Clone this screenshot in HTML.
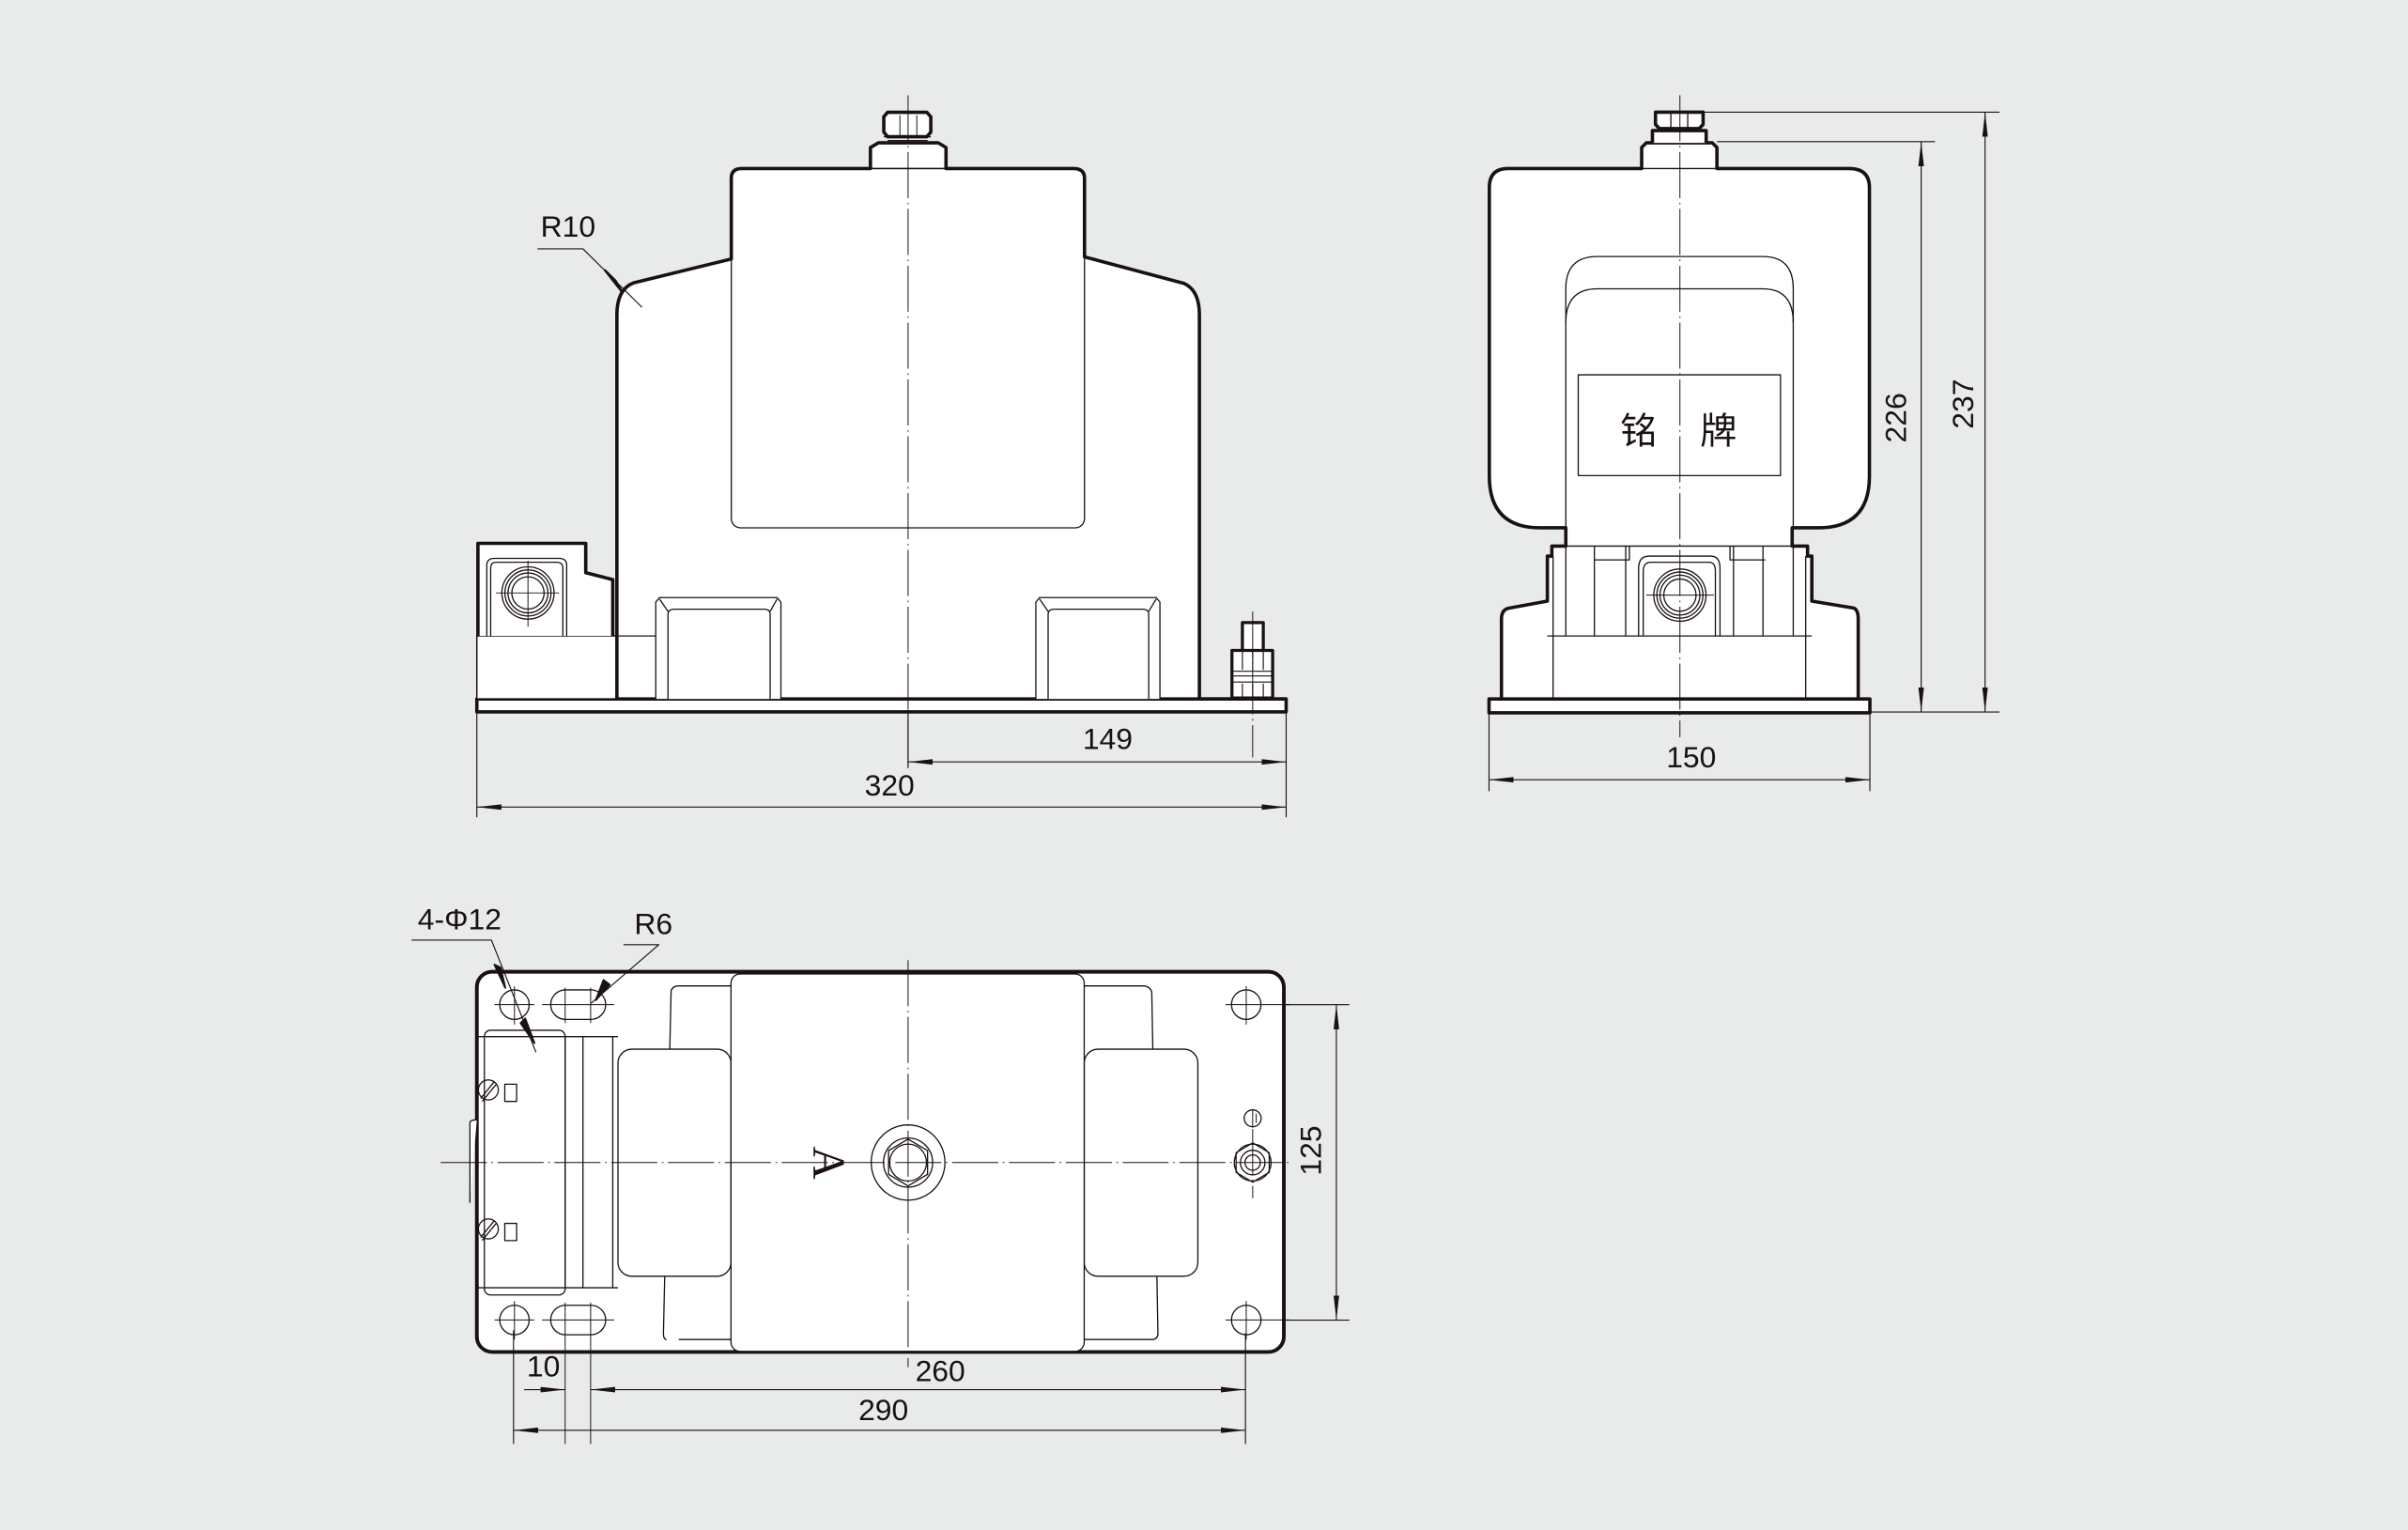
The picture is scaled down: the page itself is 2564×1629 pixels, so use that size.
<!DOCTYPE html>
<html><head><meta charset="utf-8"><style>
html,body{margin:0;padding:0;background:#e9ebea;}
svg{display:block;}
text{font-family:"Liberation Sans","Noto Sans CJK SC",sans-serif;fill:#1a1111;}
</style></head><body>
<svg width="2564" height="1629" viewBox="0 0 1568 996" preserveAspectRatio="none" xmlns="http://www.w3.org/2000/svg">
<defs>
<marker id="ar" markerWidth="16" markerHeight="6" refX="16" refY="3" orient="auto" markerUnits="userSpaceOnUse">
<path d="M0,1.2 L16,3 L0,4.8 Z" fill="#1a1111"/></marker>
<marker id="al" markerWidth="16" markerHeight="6" refX="0" refY="3" orient="auto" markerUnits="userSpaceOnUse">
<path d="M16,1.2 L0,3 L16,4.8 Z" fill="#1a1111"/></marker>
</defs>
<rect width="1568" height="996" fill="#e9ebea"/>
<g stroke="#1a1111" fill="none" stroke-linejoin="round">

<!-- ============ FRONT VIEW ============ -->
<g fill="#fff" stroke-width="2.2">
<!-- base plate -->
<rect x="310.5" y="455" width="527" height="8.4"/>
<!-- lower block -->
<rect x="310.5" y="414" width="116.5" height="41" stroke-width="0.9"/>
<!-- terminal box -->
<path d="M311.2,414 V353.7 H381.4 V372.8 L399,377.3 V414"/>
<!-- main body -->
<path d="M401.7,455 V205 Q401.7,188 413,184 L476.2,168.6 V116 Q476.2,109.7 483,109.7 H566.8 V96 L572,93 H611 L616,96 V109.7 H699 Q706.2,109.7 706.2,116 V167.2 L771,184.5 Q781,189 781,205 V455 Z"/>
</g>
<g stroke-width="0.8">
<rect x="476.2" y="109.7" width="230" height="233.9" rx="6"/>
<line x1="566.8" y1="109.7" x2="616" y2="109.7"/>
<line x1="401.7" y1="414" x2="427" y2="414"/>
</g>
<!-- bolt head -->
<path d="M578,89 L575.5,86 V76 L578,73.1 H603.5 L606.1,76 V86 L603.5,89 Z" fill="#fff" stroke-width="2.2"/>
<path d="M575.5,89 H606.1 M578,91.5 H604" stroke-width="0.8"/>
<line x1="586" y1="75" x2="586" y2="88" stroke-width="0.6"/><line x1="597" y1="75" x2="597" y2="88" stroke-width="0.6"/>
<!-- terminal inner -->
<g stroke-width="0.8">
<path d="M317,414 V368 Q317,363.5 322,363.5 H364 Q369,363.5 369,368 V414"/>
<path d="M319.5,414 V370 Q319.5,366 323,366 H362.5 Q366.5,366 366.5,370 V414"/>
<circle cx="343.8" cy="386" r="17"/><circle cx="343.8" cy="386" r="15"/><circle cx="343.8" cy="386" r="13"/><circle cx="343.8" cy="386" r="10.5"/>
<line x1="323" y1="386" x2="364" y2="386" stroke-width="0.6"/><line x1="343.8" y1="365" x2="343.8" y2="408" stroke-width="0.6"/>
</g>
<!-- feet -->
<g stroke-width="0.8" fill="#fff">
<path d="M427,455 V392 L429.5,389 H506 L508.5,392 V455"/>
<path d="M435,455 V400 Q435,396.6 439,396.6 H497.5 Q501.5,396.6 501.5,400 V455"/>
<path d="M429.5,390 L435,398 M506,390 L501.5,398" />
<path d="M674.5,455 V392 L677,389 H752.8 L755.3,392 V455"/>
<path d="M682.5,455 V400 Q682.5,396.6 686.5,396.6 H744 Q748,396.6 748,400 V455"/>
<path d="M677,390 L682.5,398 M752.8,390 L748,398"/>
</g>
<!-- ground bolt -->
<g fill="#fff">
<path d="M809,423.4 V405.3 H822.6 V423.4" stroke-width="2"/>
<rect x="802.2" y="423.4" width="26.5" height="31" stroke-width="2"/>
<path d="M802.2,437 H828.7 M802.2,440 H828.7 M802.2,444 H828.7 M809,424 V436 M815.7,424 V436 M822.6,424 V436 M809,445 V454 M815.7,445 V454 M822.6,445 V454" stroke-width="0.7"/>
<path d="M781,455 H802.2 M828.7,455 H837.5" stroke-width="2.2"/>
</g>
<!-- centerline -->
<line x1="591.3" y1="62" x2="591.3" y2="500" stroke-width="0.6" stroke-dasharray="30,3,1,3"/>
<line x1="815.7" y1="398" x2="815.7" y2="493" stroke-width="0.6" stroke-dasharray="30,3,1,3"/>
<!-- R10 leader -->
<path d="M350,162 H379.6 L418,200" stroke-width="0.7"/>
<path d="M394,176 L405,190 L401,183 Z" fill="#1a1111" stroke-width="1.5"/>
<!-- dims -->
<g stroke-width="0.7">
<line x1="310.5" y1="463" x2="310.5" y2="532"/>
<line x1="837.5" y1="463" x2="837.5" y2="532"/>
<line x1="591.3" y1="463" x2="591.3" y2="500"/>
<line x1="591.3" y1="496" x2="837.5" y2="496" marker-start="url(#al)" marker-end="url(#ar)"/>
<line x1="310.5" y1="525.4" x2="837.5" y2="525.4" marker-start="url(#al)" marker-end="url(#ar)"/>
</g>

<!-- ============ SIDE VIEW ============ -->
<g fill="#fff" stroke-width="2.2">
<rect x="969.6" y="455" width="248" height="9"/>
<path d="M977.7,455 V403 Q977.7,396.5 983,395.8 L1007.6,391.3 V362 H1010.5 V355.5 H1019.6 V343.6 H1003 Q969.8,343.6 969.8,310 V122 Q969.8,109.7 982,109.7 H1069 V96 L1072,93 H1115 L1118,96 V109.7 H1204 Q1217.3,109.7 1217.3,122 V310 Q1217.3,343.6 1184,343.6 H1167 V355.5 H1177 V362 H1179.8 V391.3 L1207,395.8 Q1210,397 1210,403 V455 Z"/>
</g>
<path d="M1080.5,83.7 L1078,81 V73 H1109 V81 L1106.5,83.7 Z M1076,93 V85 H1111 V93" fill="#fff" stroke-width="2.2"/>
<g stroke-width="0.8">
<line x1="1069" y1="109.7" x2="1118" y2="109.7"/>
<line x1="1088" y1="74" x2="1088" y2="83"/><line x1="1099" y1="74" x2="1099" y2="83"/>
<path d="M1019.6,343.6 V188 Q1019.6,167 1040,167 H1148 Q1167.7,167 1167.7,188 V343.6"/>
<path d="M1019.6,210 Q1019.6,188 1040,188 H1148 Q1167.7,188 1167.7,210"/>
<rect x="1027.7" y="244" width="131.7" height="65.6"/>
<path d="M1007.6,414 H1179.8 M1019.6,355.5 V414 M1167.7,355.5 V414 M1011.3,362 V455 M1175.8,362 V455"/>
<path d="M1019.6,355.5 H1167.7"/>
<path d="M1038.2,355.5 V414 M1058.6,355.5 V414 M1128.8,355.5 V414 M1148,355.5 V414"/>
<path d="M1038.2,364.5 H1061 V355.5 M1126.5,355.5 V364.5 H1149.5"/>
<path d="M1067,414 V370 Q1067,362 1074,362 H1114 Q1120,362 1120,370 V414"/>
<path d="M1070,414 V372 Q1070,366 1075,366 H1113 Q1117,366 1117,372 V414"/>
<circle cx="1093.9" cy="387.4" r="17"/><circle cx="1093.9" cy="387.4" r="15"/><circle cx="1093.9" cy="387.4" r="13"/><circle cx="1093.9" cy="387.4" r="10.5"/>
<line x1="1072" y1="387.4" x2="1116" y2="387.4" stroke-width="0.6"/>
</g>
<line x1="1093.9" y1="62" x2="1093.9" y2="480" stroke-width="0.6" stroke-dasharray="30,3,1,3"/>
<g stroke-width="0.7">
<line x1="1109" y1="73" x2="1302" y2="73"/>
<line x1="1118" y1="92.2" x2="1260" y2="92.2"/>
<line x1="1218" y1="463.5" x2="1302" y2="463.5"/>
<line x1="1251" y1="92.2" x2="1251" y2="463.5" marker-start="url(#al)" marker-end="url(#ar)"/>
<line x1="1292.6" y1="73" x2="1292.6" y2="463.5" marker-start="url(#al)" marker-end="url(#ar)"/>
<line x1="969.6" y1="464" x2="969.6" y2="515"/>
<line x1="1217.6" y1="464" x2="1217.6" y2="515"/>
<line x1="969.6" y1="507.6" x2="1217.6" y2="507.6" marker-start="url(#al)" marker-end="url(#ar)"/>
</g>

<!-- ============ BOTTOM VIEW ============ -->
<rect x="310.5" y="632.6" width="525.5" height="247.5" rx="10" fill="#fff" stroke-width="2.4"/>
<g stroke-width="0.8" fill="#fff">
<path d="M306,783 V731 Q306,729 310.5,729"/>
<path d="M434,872 Q432,872 432,868 L437,645 Q438,641.8 442,641.8 H476 M476,872 H442"/>
<path d="M706,641.8 H744 Q749,641.8 750,646 L754,868 Q754,872 750,872 H706"/>
<rect x="402.4" y="683" width="73.6" height="147.8" rx="9"/>
<rect x="706" y="683" width="74" height="147.8" rx="9"/>
<rect x="476" y="634" width="230" height="245.7" rx="6"/>
<rect x="315.4" y="670.7" width="52.6" height="172.3" rx="4"/>
</g>
<g stroke-width="0.8">
<path d="M310.5,674.8 H402.4 M310.5,838.3 H402.4 M368,674.8 V838.3 M379.6,674.8 V838.3 M399,674.8 V838.3"/>
<circle cx="335" cy="654" r="9.6"/><circle cx="335" cy="859.3" r="9.6"/>
<circle cx="811.5" cy="654" r="9.6"/><circle cx="811.5" cy="859.3" r="9.6"/>
<rect x="358.6" y="644.4" width="35.8" height="19.2" rx="9.6"/>
<rect x="358.6" y="849.7" width="35.8" height="19.2" rx="9.6"/>
<g stroke-width="0.6">
<path d="M322,654 H348 M335,642 V667 M322,859.3 H348 M335,847 V872 M798,654 H840 M811.5,642 V667 M798,859.3 H840 M811.5,847 V872"/>
<path d="M353,654 H400 M368,643 V666 M384.6,643 V666 M353,859.3 H400 M368,848 V940 M384.6,848 V940"/>
</g>
<!-- screws -->
<circle cx="318" cy="709.5" r="6.5"/><circle cx="318" cy="800" r="6.5"/>
<path d="M313,715 L322,704 M314,717 L323,706 M313,805.5 L322,794.5 M314,807.5 L323,796.5"/>
<rect x="328.7" y="705.8" width="7.7" height="11.2"/><rect x="328.7" y="796.4" width="7.7" height="11.2"/>
<!-- center boss -->
<ellipse cx="591.3" cy="756.8" rx="24" ry="24.5"/>
<circle cx="591.3" cy="756.8" r="16"/>
<path d="M591.3,741.5 L604,749 V764.5 L591.3,772 L578.6,764.5 V749 Z"/>
<circle cx="591.3" cy="756.8" r="12"/>
<!-- earth -->
<circle cx="815.7" cy="728" r="5.5"/>
<path d="M815.7,722 V734 M818,725 V731" stroke-width="0.6"/>
<path d="M815.7,744 L826.5,750.4 V763.2 L815.7,769.6 L804.9,763.2 V750.4 Z"/>
<circle cx="815.7" cy="756.8" r="12"/><circle cx="815.7" cy="756.8" r="8"/><circle cx="815.7" cy="756.8" r="5"/>
</g>
<g stroke-width="0.6" stroke-dasharray="30,3,1,3">
<line x1="287" y1="756.8" x2="842" y2="756.8"/>
<line x1="591.3" y1="625" x2="591.3" y2="890"/>
<line x1="815.7" y1="735" x2="815.7" y2="780"/>
</g>
<!-- leaders -->
<g stroke-width="0.7">
<path d="M268,612 H320 L349,685"/>
<path d="M406,615 H429 L385,653"/>
</g>
<path d="M322,628 L329,643 L326,630 Z M342,663 L348,679 L339,666 Z M397,641 L388,651 L393,638 Z" fill="#1a1111" stroke-width="1.2"/>
<!-- dims -->
<g stroke-width="0.7">
<line x1="334.4" y1="866" x2="334.4" y2="940"/>
<line x1="811" y1="868" x2="811" y2="940"/>
<line x1="341.3" y1="904.6" x2="368" y2="904.6" marker-end="url(#ar)"/>
<line x1="384.6" y1="904.6" x2="811" y2="904.6" marker-start="url(#al)" marker-end="url(#ar)"/>
<line x1="334.4" y1="931.1" x2="811" y2="931.1" marker-start="url(#al)" marker-end="url(#ar)"/>
<line x1="836" y1="654" x2="878.7" y2="654"/>
<line x1="836" y1="859.4" x2="878.7" y2="859.4"/>
<line x1="870.2" y1="654" x2="870.2" y2="859.4" marker-start="url(#al)" marker-end="url(#ar)"/>
</g>
</g>

<!-- ============ TEXT ============ -->
<g font-size="19.5">
<text x="352" y="154">R10</text>
<text x="705" y="487.5">149</text>
<text x="563" y="518">320</text>
<text x="1085" y="499.5">150</text>
<text transform="translate(1241,272) rotate(-90)" text-anchor="middle">226</text>
<text transform="translate(1285,263) rotate(-90)" text-anchor="middle">237</text>
<text x="272" y="605">4-Φ12</text>
<text x="413" y="608">R6</text>
<text x="343" y="896">10</text>
<text x="596" y="899">260</text>
<text x="559" y="924.6">290</text>
<text transform="translate(860,749) rotate(-90)" text-anchor="middle">125</text>
</g>
<text x="1055" y="289" font-size="24">铭</text>
<text x="1107" y="289" font-size="24">牌</text>
<text transform="translate(530,757) rotate(90)" text-anchor="middle" font-size="30" style="font-family:'Liberation Serif',serif">A</text>
</svg>
</body></html>
